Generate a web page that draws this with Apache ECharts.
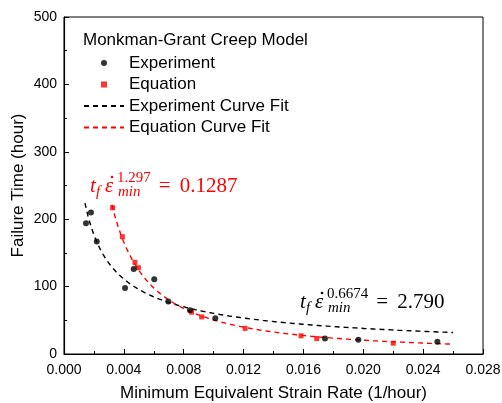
<!DOCTYPE html>
<html>
<head>
<meta charset="utf-8">
<script src="https://cdn.jsdelivr.net/npm/echarts@6/dist/echarts.min.js"></script>
<style>
  html, body { margin: 0; padding: 0; background: #fff; }
  #chart { width: 502px; height: 403px; }
</style>
</head>
<body>
<div id="chart"></div>
<script>
// Minimum equivalent strain rate (1/hour) vs. failure time (hour)
const strainExperiment = [0.00147, 0.00180, 0.00219, 0.00408, 0.00466, 0.00603, 0.00697, 0.00842, 0.01011, 0.01744, 0.01967, 0.02495];
const timeExperiment   = [194, 210, 167, 98, 126, 111, 78, 65, 53, 23, 21, 18];
const strainEquation   = [0.00325, 0.00390, 0.00474, 0.00497, 0.00853, 0.00920, 0.01210, 0.01584, 0.01689, 0.02200];
const timeEquation     = [217, 174, 136, 128, 62, 55, 38, 27, 23, 16];

// Monkman-Grant fits: t_f * rate^m = C
const experimentFit = { m: '0.6674', C: '2.790', from: 0.0014, to: 0.026 };
const equationFit   = { m: '1.297',  C: '0.1287', from: 0.0032, to: 0.026 };

const xTicks = [0.000, 0.004, 0.008, 0.012, 0.016, 0.020, 0.024, 0.028];
const yTicks = [0, 100, 200, 300, 400, 500];

function fitCurve(fit) {
  const m = parseFloat(fit.m), C = parseFloat(fit.C);
  const pts = [];
  const n = 120;
  for (let i = 0; i <= n; i++) {
    const e = fit.from + (fit.to - fit.from) * i / n;
    pts.push([e, C / Math.pow(e, m)]);
  }
  return pts;
}

function zip(xs, ys) { return xs.map((x, i) => [x, ys[i]]); }

const sans = 'Liberation Sans, Arial, sans-serif';
const serif = 'Liberation Serif, Times New Roman, serif';

// Monkman-Grant relation written as t_f ε̇_min^m = C
function equationLabel(fit, color, x, y) {
  const big = 21, small = 15;
  const mk = (text, dx, dy, size, italic) => ({
    type: 'text', x: x + dx, y: y + dy,
    style: { text: text, fill: color, font: (italic ? 'italic ' : '') + size + 'px ' + serif, verticalAlign: 'middle', align: 'left' }
  });
  const supX = 27;
  const supW = (fit.m.length - 1) * 7.5 + 3.75;
  const eqX = supX + supW + 8;
  return {
    type: 'group', z: 100,
    children: [
      mk('t', 0, 0, big, true),
      mk('f', 6, 6, small, true),
      mk('\u03B5', 15, 0, big, true),
      { type: 'circle', x: x + 22, y: y - 9, shape: { r: 1.3 }, style: { fill: color } },
      mk(fit.m, supX, -8, small, false),
      mk('min', supX + 1, 6, small, true),
      mk('=', eqX, 0, big, false),
      mk(fit.C, eqX + 21, 0, big, false)
    ]
  };
}

// small square marker for the key
const squareIcon = 'path://M0 0H10V10H0Z';

const chart = echarts.init(document.getElementById('chart'), null, { renderer: 'canvas' });

chart.setOption({
  animation: false,
  backgroundColor: '#fff',
  grid: {
    left: 64, right: 19, top: 17, bottom: 49,
    outerBoundsMode: 'none', containLabel: false,
    show: true, borderColor: '#000', borderWidth: 1
  },
  title: {
    text: 'Monkman-Grant Creep Model',
    left: 83, top: 32, padding: 0,
    textStyle: { fontFamily: sans, fontSize: 17, fontWeight: 'normal', color: '#000' }
  },
  legend: {
    orient: 'vertical',
    left: 83, top: 54, padding: 0,
    itemWidth: 40, itemHeight: 6, itemGap: 3.5,
    textStyle: { fontFamily: sans, fontSize: 17, color: '#000', lineHeight: 18 },
    data: [
      { name: 'Experiment' },
      { name: 'Equation', icon: squareIcon },
      { name: 'Experiment Curve Fit', itemStyle: { color: 'rgba(0,0,0,0)', borderWidth: 0 } },
      { name: 'Equation Curve Fit', itemStyle: { color: 'rgba(0,0,0,0)', borderWidth: 0 } }
    ]
  },
  xAxis: {
    type: 'value', min: xTicks[0], max: xTicks[xTicks.length - 1], interval: 0.004,
    name: 'Minimum Equivalent Strain Rate (1/hour)', nameLocation: 'middle', nameGap: 31,
    nameTextStyle: { fontFamily: sans, fontSize: 17, color: '#000' },
    axisLine: { lineStyle: { color: '#000', width: 1.2 } },
    axisTick: { inside: true, length: 5, lineStyle: { color: '#000' } },
    minorTick: { show: true, splitNumber: 2, length: 3, lineStyle: { color: '#000' } },
    axisLabel: { fontFamily: sans, fontSize: 14, color: '#000', margin: 9, formatter: v => v.toFixed(3) },
    splitLine: { show: false }
  },
  yAxis: {
    type: 'value', min: yTicks[0], max: yTicks[yTicks.length - 1], interval: 100,
    name: 'Failure Time (hour)', nameLocation: 'middle', nameGap: 37, nameMoveOverlap: false,
    nameTextStyle: { fontFamily: sans, fontSize: 17, color: '#000' },
    axisLine: { show: true, lineStyle: { color: '#000', width: 1.2 } },
    axisTick: { show: true, inside: true, length: 5, lineStyle: { color: '#000' } },
    minorTick: { show: true, splitNumber: 2, length: 3, lineStyle: { color: '#000' } },
    axisLabel: { fontFamily: sans, fontSize: 14, color: '#000', margin: 7 },
    splitLine: { show: false }
  },
  series: [
    {
      name: 'Experiment Curve Fit', type: 'line', data: fitCurve(experimentFit),
      symbol: 'none', showSymbol: false, smooth: false, z: 2,
      lineStyle: { color: '#000', width: 1.4, type: [5, 4] }, itemStyle: { color: '#000' }
    },
    {
      name: 'Equation Curve Fit', type: 'line', data: fitCurve(equationFit),
      symbol: 'none', showSymbol: false, smooth: false, z: 3,
      lineStyle: { color: '#ff0000', width: 1.4, type: [5, 4] }, itemStyle: { color: '#ff0000' }
    },
    {
      name: 'Equation', type: 'scatter', data: zip(strainEquation, timeEquation),
      symbol: 'rect', symbolSize: 5, z: 4, itemStyle: { color: '#ff0000' }
    },
    {
      name: 'Experiment', type: 'scatter', data: zip(strainExperiment, timeExperiment),
      symbol: 'circle', symbolSize: 6, z: 5, itemStyle: { color: '#000' }
    }
  ],
  graphic: [
    equationLabel(equationFit, '#ff0000', 90, 186),
    equationLabel(experimentFit, '#000', 300, 302)
  ]
});
</script>
</body>
</html>
